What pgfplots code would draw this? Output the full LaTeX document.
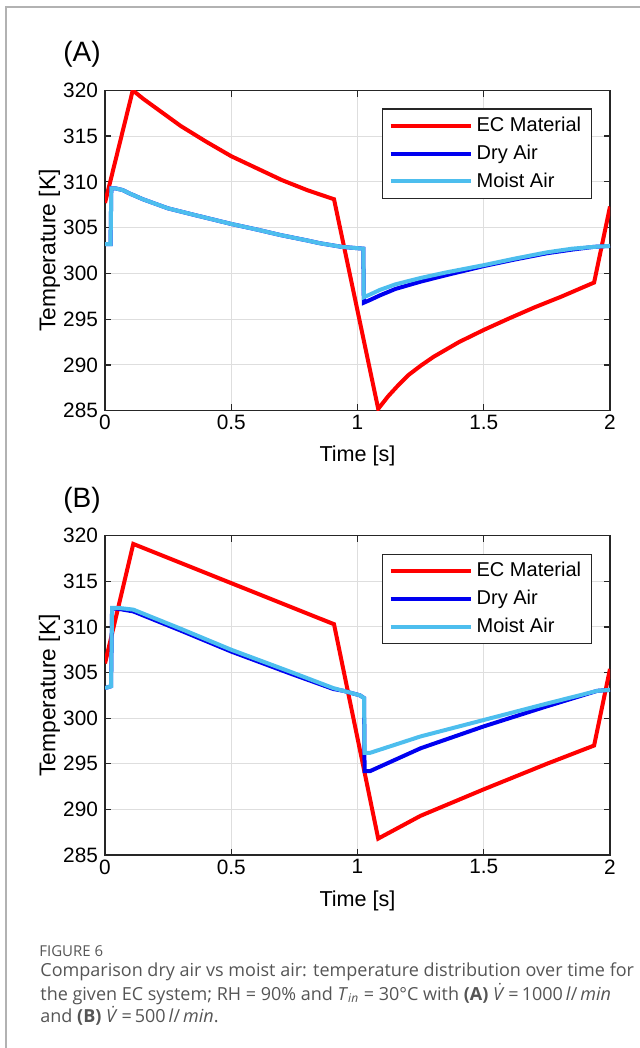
\documentclass[border=0pt]{standalone}
\usepackage{fontspec}
\setmainfont{Liberation Sans}
\newfontfamily\capfont{Open Sans}
\usepackage{pgfplots}
\pgfplotsset{compat=1.18}

\definecolor{ecred}{RGB}{255,0,0}
\definecolor{dryblue}{RGB}{0,0,240}
\definecolor{moist}{RGB}{77,190,238}
\definecolor{capgray}{RGB}{85,85,85}

\pgfplotsset{
  panel/.style={
    scale only axis,
    width=252.5pt,
    xmin=0, xmax=2, ymin=285, ymax=320,
    xtick={0,0.5,1,1.5,2},
    ytick={285,290,...,320},
    tick align=inside,
    major tick length=3.2pt,
    tick style={black!85, line width=0.6pt},
    axis line style={black!85, line width=0.7pt},
    grid=major,
    major grid style={black!13, line width=0.5pt},
    /pgf/number format/assume math mode=true,
    ticklabel style={font=\fontsize{10.4}{12}\selectfont},
    xticklabel style={yshift=1.3pt},
    every axis x label/.style={at={(axis description cs:0.5,0)}, anchor=base, yshift=-25.5pt,
      font=\fontsize{10.8}{12}\selectfont},
    every axis y label/.style={at={(axis description cs:-0.1099,0.5)}, rotate=90, anchor=center,
      font=\fontsize{11.4}{13}\selectfont},
    xlabel={Time [s]},
    ylabel={Temperature [K]},
    legend cell align=left,
    legend style={at={(axis description cs:0.9638,0.9438)}, anchor=north east,
      draw=black!85, line width=0.6pt, font=\fontsize{10}{12}\selectfont,
      inner xsep=3pt, inner ysep=2pt, row sep=1.2pt},
    legend image code/.code={\draw[##1, line width=2pt] (0pt,0pt) -- (40pt,0pt);},
    every axis plot/.append style={line width=2pt},
  },
}

\begin{document}
\begin{tikzpicture}
\path[use as bounding box] (0,0) rectangle (320pt,-524pt);
\draw[black!30, line width=0.6pt] (3pt,-524pt) -- (3pt,-3.5pt) -- (320pt,-3.5pt);

\node[anchor=base west, inner sep=0pt, font=\fontsize{14}{16}\selectfont] at (31.5pt,-30.95pt) {(A)};
\node[anchor=base west, inner sep=0pt, font=\fontsize{14}{16}\selectfont] at (31.5pt,-253.65pt) {(B)};

% (A) 1000 l/min
\begin{axis}[panel, height=160.2pt, at={(52.5pt,-205.35pt)}, anchor=south west]
\addplot[ecred] coordinates {
(0,307.7) (0.11,320.0) (0.15,319.1) (0.2,318.1) (0.3,316.1) (0.4,314.4) (0.5,312.8)
(0.6,311.5) (0.7,310.2) (0.8,309.1) (0.907,308.1)
(1.082,285.2) (1.122,286.6) (1.162,287.8) (1.202,288.9) (1.252,289.95) (1.302,290.9)
(1.352,291.7) (1.402,292.5) (1.502,293.85) (1.602,295.1) (1.702,296.3) (1.802,297.4)
(1.937,299.0) (2.0,307.3)};
\addplot[dryblue] coordinates {
(0,303.2) (0.022,303.2) (0.025,309.3) (0.04,309.3) (0.07,309.1) (0.1,308.7) (0.15,308.1)
(0.25,307.1) (0.337,306.5) (0.5,305.4) (0.6,304.8) (0.693,304.2) (0.8,303.6) (0.85,303.3)
(0.937,302.9) (1.023,302.7) (1.025,296.8) (1.05,297.1) (1.089,297.6) (1.15,298.3) (1.25,299.1)
(1.35,299.8) (1.5,300.8) (1.62,301.5) (1.75,302.2) (1.85,302.6) (1.937,302.9) (2.0,303.0)};
\addplot[moist] coordinates {
(0,303.2) (0.022,303.2) (0.025,309.3) (0.04,309.3) (0.07,309.1) (0.1,308.7) (0.15,308.1)
(0.25,307.1) (0.337,306.5) (0.5,305.4) (0.6,304.8) (0.693,304.2) (0.8,303.6) (0.85,303.3)
(0.937,302.9) (1.023,302.7) (1.025,297.4) (1.05,297.7) (1.089,298.2) (1.15,298.8) (1.25,299.5)
(1.35,300.1) (1.5,300.9) (1.62,301.6) (1.75,302.3) (1.85,302.7) (1.937,302.9) (2.0,303.0)};
\legend{EC Material, Dry Air, Moist Air}
\end{axis}

% (B) 500 l/min
\begin{axis}[panel, height=159.65pt, at={(52.5pt,-427.5pt)}, anchor=south west]
\addplot[ecred] coordinates {
(0,306.0) (0.112,319.1) (0.5,314.8) (0.907,310.3)
(1.082,286.8) (1.25,289.3) (1.5,292.2) (1.75,295.0) (1.937,297.0) (2.0,305.4)};
\addplot[dryblue] coordinates {
(0,303.3) (0.024,303.5) (0.028,312.0) (0.05,312.0) (0.112,311.7) (0.3,309.6) (0.5,307.3)
(0.733,304.9) (0.904,303.2) (0.944,303.0) (1.01,302.5) (1.026,302.2) (1.028,294.2)
(1.05,294.2) (1.25,296.7) (1.5,299.1) (1.75,301.3) (1.95,303.0) (2.0,303.1)};
\addplot[moist] coordinates {
(0,303.3) (0.024,303.5) (0.028,312.1) (0.05,312.1) (0.112,311.9) (0.3,309.8) (0.5,307.5)
(0.733,305.1) (0.904,303.3) (0.944,303.0) (1.01,302.5) (1.026,302.2) (1.028,296.2)
(1.05,296.2) (1.25,298.0) (1.5,299.8) (1.75,301.6) (1.95,303.0) (2.0,303.1)};
\legend{EC Material, Dry Air, Moist Air}
\end{axis}

\begin{scope}[capgray]
\node[anchor=base west, inner sep=0pt, font=\capfont\fontsize{7.5}{9}\selectfont] at (19.5pt,-478pt) {FIGURE 6};
\node[anchor=base west, inner sep=0pt, font=\capfont\fontsize{9}{11}\selectfont] at (20pt,-488.35pt)
  {Comparison dry air vs moist air: temperature distribution over time for};
\node[anchor=base west, inner sep=0pt, font=\capfont\fontsize{9}{11}\selectfont] at (20pt,-500pt)
  {the given EC system; RH = 90\% and \textit{T}\textsubscript{\textit{in}} = 30°C with \textbf{(A)} \textit{V̇}\,=\,1000\,\textit{l}/\,\textit{min}};
\node[anchor=base west, inner sep=0pt, font=\capfont\fontsize{9}{11}\selectfont] at (20pt,-511.35pt)
  {and \textbf{(B)} \textit{V̇}\,=\,500\,\textit{l}/\,\textit{min}.};
\end{scope}
\end{tikzpicture}
\end{document}
